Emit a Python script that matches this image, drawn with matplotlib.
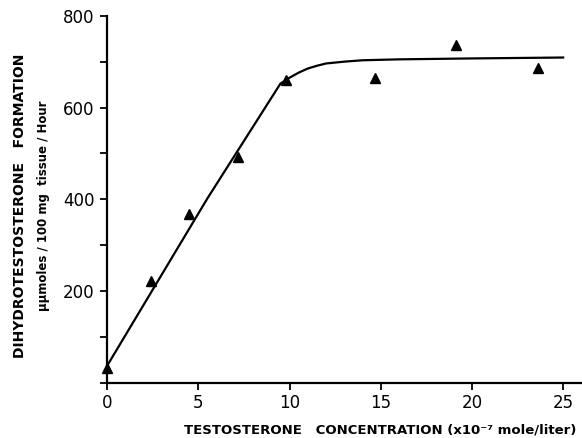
"""testosterone -> dihydrotestosterone formation curve"""

import matplotlib
matplotlib.use("Agg")
import matplotlib.pyplot as plt
from matplotlib.ticker import MultipleLocator

# measured points (triangles)
conc = [0, 2.4, 4.5, 7.2, 9.8, 14.7, 19.1, 23.6]
dht = [33, 222, 367, 493, 661, 665, 737, 687]

# fitted curve
curve_x = [0, 5.5, 9.5, 10.0, 10.5, 11.0, 11.5, 12.0, 13.0, 14.0, 16.0, 20.0, 25.0]
curve_y = [37, 402, 652, 665, 676, 685, 691, 696, 700, 703, 705, 707, 709]

x_ticks = [0, 5, 10, 15, 20, 25]
x_labels = ["0", "5", "10", "15", "20", "25"]
y_ticks = [200, 400, 600, 800]

fig = plt.figure(figsize=(5.82, 4.38), dpi=100)
ax = fig.add_axes([0.184, 0.126, 0.815, 0.838])

ax.plot(curve_x, curve_y, color="black", lw=1.6, zorder=2)
ax.plot(conc, dht, "k^", markersize=7.5, clip_on=False, zorder=3)

ax.set_xlim(0, 26)
ax.set_ylim(0, 800)
ax.set_xticks(x_ticks)
ax.set_xticklabels(x_labels)
ax.set_yticks(y_ticks)
ax.yaxis.set_minor_locator(MultipleLocator(100))

for s in ["top", "right"]:
    ax.spines[s].set_visible(False)
for s in ["left", "bottom"]:
    ax.spines[s].set_linewidth(1.6)

ax.tick_params(which="both", direction="out", length=5, width=1.3,
               labelsize=12, pad=4)
ax.tick_params(axis="x", pad=3)

fig.text(0.035, 0.53, "DIHYDROTESTOSTERONE   FORMATION", rotation=90,
         ha="center", va="center", fontsize=10, fontweight="bold")
fig.text(0.075, 0.53, "\u03bc\u03bcmoles / 100 mg  tissue / Hour", rotation=90,
         ha="center", va="center", fontsize=8.5, fontweight="bold")
fig.text(0.654, 0.018, "TESTOSTERONE   CONCENTRATION (x10\u207b\u2077 mole/liter)",
         ha="center", va="center", fontsize=9.5, fontweight="bold")

fig.savefig("out.png", dpi=100)
